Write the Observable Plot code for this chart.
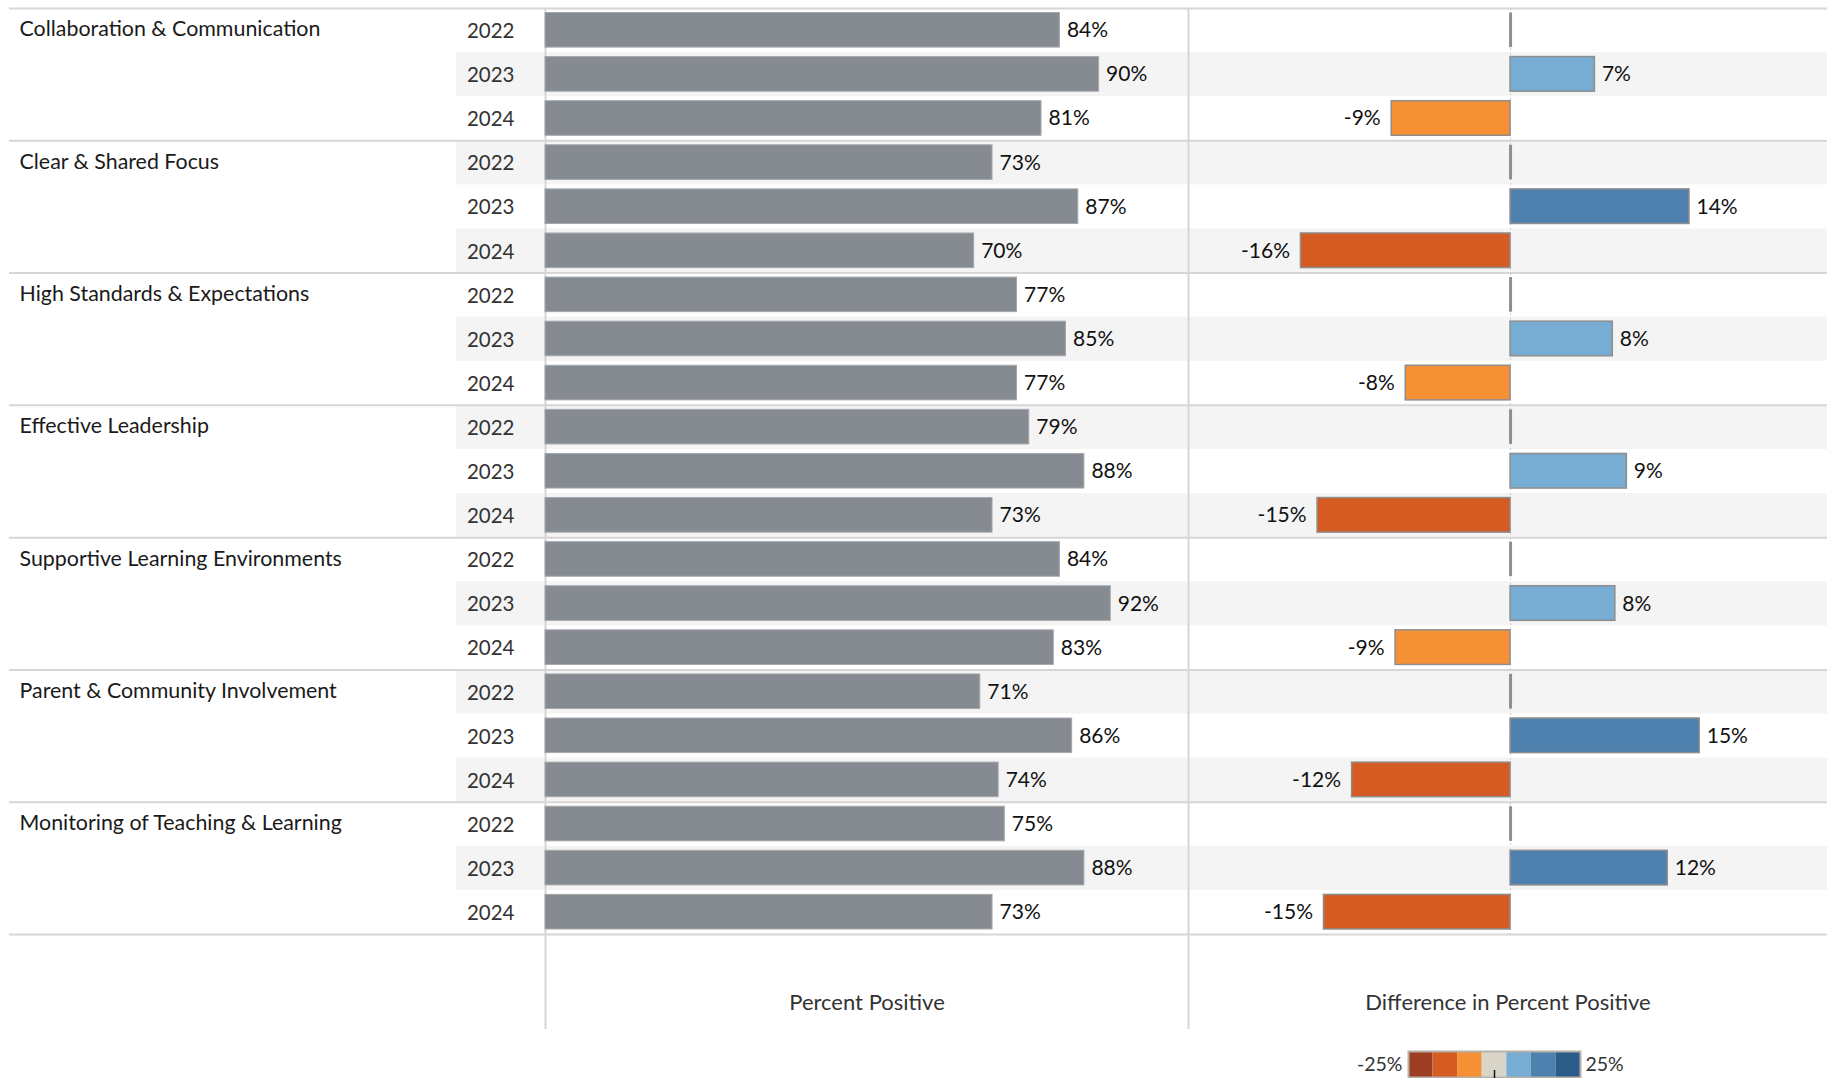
<!DOCTYPE html>
<html><head><meta charset="utf-8">
<script src="https://cdn.jsdelivr.net/npm/d3@7"></script>
<script src="https://cdn.jsdelivr.net/npm/@observablehq/plot@0.6"></script>
<style>
html,body{margin:0;padding:0;background:#fff;}
#chart{position:relative;width:1827px;height:1078px;overflow:hidden;font-family:Lato,sans-serif;}
#chart svg{position:absolute;top:0;overflow:visible;}
</style></head><body><div id="chart"></div>
<script>
// ---- data ----
const categories = [
  "Collaboration & Communication",
  "Clear & Shared Focus",
  "High Standards & Expectations",
  "Effective Leadership",
  "Supportive Learning Environments",
  "Parent & Community Involvement",
  "Monitoring of Teaching & Learning"
];
const years = ["2022", "2023", "2024"];
const percentPositive = [
  [84, 90.4, 81],
  [73, 87, 70],
  [77, 85, 77],
  [79, 88, 73],
  [84, 92.3, 83],
  [71, 86, 74],
  [75, 88, 73]
];
const differenceInPercent = [
  [null, 6.6, -9.3],
  [null, 14.0, -16.4],
  [null, 8.0, -8.2],
  [null, 9.1, -15.1],
  [null, 8.2, -9.0],
  [null, 14.8, -12.4],
  [null, 12.3, -14.6]
];
const diffColors = ["#9e3d22", "#d45b21", "#f69035", "#d9d5c9", "#77acd3", "#4f81af", "#2b5c8a"];
const legendDomain = [-25, 25];
const diffAxisDomain = [-25.2, 24.8];
const percentDomain = [0, 105];

// ---- derived tables ----
const rows = categories.flatMap((category, ci) => years.map((year, yi) => ({
  category, year, row: ci * years.length + yi,
  pct: percentPositive[ci][yi], diff: differenceInPercent[ci][yi]
})));
const groupLines = d3.range(0, rows.length + 1, years.length);
const shaded = rows.filter(d => d.row % 2 === 1);
const firstRows = rows.filter(d => d.year === years[0]);
const changes = rows.filter(d => d.diff != null);
const baseRows = rows.filter(d => d.diff == null);
const step = (legendDomain[1] - legendDomain[0]) / diffColors.length;
const thresholds = d3.range(1, diffColors.length).map(i => legendDomain[0] + i * step);
const bins = diffColors.map((c, i) => ({lo: legendDomain[0] + i * step, hi: legendDomain[0] + (i + 1) * step}));
const colorScale = {type: "threshold", domain: thresholds, range: diffColors};

// ---- layout / style ----
const H = 1029, MT = 8, MB = 95;
const rowY1 = d => d.row, rowY2 = d => d.row + 1, rowMid = d => d.row + 0.5;
const pctFmt = v => `${Math.round(v)}%`;
const sepStyle = {stroke: "#d6d6d6", strokeWidth: 2};
const bandFill = "#f4f4f4";
const barInset = {insetTop: 4.5, insetBottom: 5};
const labelFont = 21;
const common = {
  height: H, marginTop: MT, marginBottom: MB, marginRight: 0,
  y: {domain: [0, rows.length], reverse: true, axis: null},
  style: {background: "transparent", overflow: "visible", fontFamily: "Lato, sans-serif"}
};
const chart = document.getElementById("chart");
function place(svg, left, top = 0) {
  svg.style.left = left + "px";
  svg.style.top = top + "px";
  chart.appendChild(svg);
}

// category column
place(Plot.plot({
  ...common, width: 456, marginLeft: 9,
  marks: [
    Plot.ruleY(groupLines, sepStyle),
    Plot.text(firstRows, {y: rowMid, text: "category", frameAnchor: "left", dx: 10, dy: -1,
      textAnchor: "start", fontSize: 21.4, fill: "#1a1a1a"})
  ]
}), 0);

// year column
place(Plot.plot({
  ...common, width: 89, marginLeft: 0,
  marks: [
    Plot.rect(shaded, {y1: rowY1, y2: rowY2, fill: bandFill}),
    Plot.ruleY(groupLines, sepStyle),
    Plot.text(rows, {y: rowMid, text: "year", frameAnchor: "right", dx: -31, dy: 1,
      textAnchor: "end", fontSize: 20.5, fill: "#333"})
  ]
}), 456);

// percent positive panel
place(Plot.plot({
  ...common, width: 643, marginLeft: 0,
  x: {domain: percentDomain, axis: null},
  marks: [
    Plot.rect(shaded, {y1: rowY1, y2: rowY2, fill: bandFill}),
    Plot.ruleY(groupLines, sepStyle),
    Plot.ruleX([percentDomain[0]], {stroke: "#d6d6d6", strokeWidth: 2, insetBottom: -MB}),
    Plot.rect(rows, {x1: percentDomain[0], x2: "pct", y1: rowY1, y2: rowY2, ...barInset,
      fill: "#868b91", stroke: "#a4a8ac", strokeWidth: 1}),
    Plot.text(rows, {x: "pct", y: rowMid, text: d => pctFmt(d.pct), textAnchor: "start",
      dx: 7, fontSize: labelFont, fill: "#111"}),
    Plot.text(["Percent Positive"], {text: d => d, frameAnchor: "bottom", lineAnchor: "middle",
      dy: 68, fontSize: 22, fill: "#333"})
  ]
}), 545);

// difference panel
place(Plot.plot({
  ...common, width: 639, marginLeft: 0,
  x: {domain: diffAxisDomain, axis: null},
  color: colorScale,
  marks: [
    Plot.rect(shaded, {y1: rowY1, y2: rowY2, fill: bandFill}),
    Plot.ruleY(groupLines, sepStyle),
    Plot.ruleX([diffAxisDomain[0]], {stroke: "#d6d6d6", strokeWidth: 2, insetBottom: -MB}),
    Plot.ruleX([0], {stroke: "#cfcfcf", strokeWidth: 1, strokeDasharray: "2,3"}),
    Plot.rect(changes, {x1: () => 0, x2: "diff", y1: rowY1, y2: rowY2, ...barInset,
      fill: "diff", stroke: "#8e8e8e", strokeWidth: 1.5}),
    Plot.ruleX(baseRows, {x: d => d.diff ?? 0, y1: rowY1, y2: rowY2, ...barInset,
      stroke: "#8e8e8e", strokeWidth: 3}),
    Plot.text(changes.filter(d => d.diff >= 0), {x: "diff", y: rowMid, text: d => pctFmt(d.diff),
      textAnchor: "start", dx: 7, fontSize: labelFont, fill: "#111"}),
    Plot.text(changes.filter(d => d.diff < 0), {x: "diff", y: rowMid, text: d => pctFmt(d.diff),
      textAnchor: "end", dx: -11, fontSize: labelFont, fill: "#111"}),
    Plot.text(["Difference in Percent Positive"], {text: d => d, frameAnchor: "bottom", lineAnchor: "middle",
      dy: 68, fontSize: 22, fill: "#333"})
  ]
}), 1188);

// color legend
place(Plot.plot({
  width: 400, height: 38, marginLeft: 108, marginRight: 120, marginTop: 11, marginBottom: 1,
  x: {domain: legendDomain, axis: null},
  color: colorScale,
  style: {background: "transparent", overflow: "visible", fontFamily: "Lato, sans-serif"},
  marks: [
    Plot.rect(bins, {x1: "lo", x2: "hi", fill: d => (d.lo + d.hi) / 2}),
    Plot.frame({stroke: "#b7b2a8", strokeWidth: 2}),
    Plot.ruleX([0], {insetTop: 19, insetBottom: -2, stroke: "#111", strokeWidth: 1.5}),
    Plot.text([legendDomain[0]], {x: d => d, text: pctFmt, textAnchor: "end", dx: -6, fontSize: 19.5, fill: "#333"}),
    Plot.text([legendDomain[1]], {x: d => d, text: pctFmt, textAnchor: "start", dx: 5, fontSize: 19.5, fill: "#333"})
  ]
}), 1300, 1040);
</script>
</body></html>
